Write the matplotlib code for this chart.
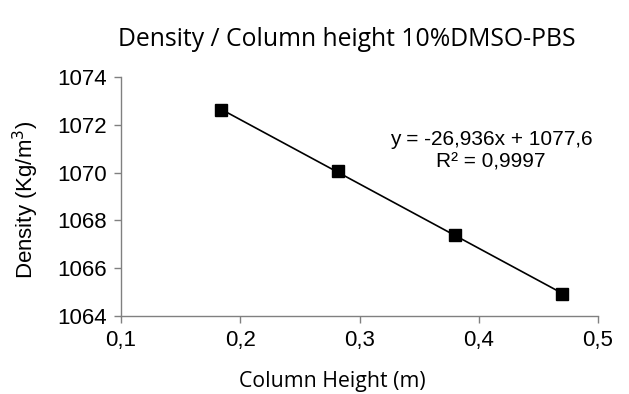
import matplotlib
matplotlib.use("Agg")
import matplotlib.pyplot as plt
import numpy as np

column_height = [0.184, 0.282, 0.380, 0.470]
density = [1072.6, 1070.08, 1067.38, 1064.92]
x_ticks = [0.1, 0.2, 0.3, 0.4, 0.5]
x_tick_labels = ["0,1", "0,2", "0,3", "0,4", "0,5"]
y_ticks = [1064, 1066, 1068, 1070, 1072, 1074]
title = "Density / Column height 10%DMSO-PBS"
equation = "y = -26,936x + 1077,6\nR² = 0,9997"

W, H = 629, 394
fig = plt.figure(figsize=(W / 100, H / 100), dpi=100)
ax = fig.add_axes([121 / W, 1 - 316 / H, (598 - 121) / W, (316 - 77) / H])

# trendline
slope, intercept = np.polyfit(column_height, density, 1)
xs = np.array([min(column_height), max(column_height)])
ax.plot(xs, slope * xs + intercept, color="black", lw=1.2, zorder=2)
ax.plot(column_height, density, ls="none", marker="s", ms=9, color="black", zorder=3)

ax.set_xlim(0.1, 0.5)
ax.set_ylim(1064, 1074)
ax.set_xticks(x_ticks)
ax.set_xticklabels(x_tick_labels)
ax.set_yticks(y_ticks)
ax.set_yticklabels([str(v) for v in y_ticks])
for s in ["top", "right"]:
    ax.spines[s].set_visible(False)
for s in ["left", "bottom"]:
    ax.spines[s].set_color("#808080")
    ax.spines[s].set_linewidth(1.0)
ax.tick_params(axis="both", direction="out", length=5, color="#808080", width=1.0,
               labelsize=16, pad=5)
for lab in ax.get_xticklabels() + ax.get_yticklabels():
    lab.set_fontfamily("Liberation Sans")

fig.text(347 / W, 1 - 40 / H, title, ha="center", va="center", fontsize=17.8, family="Open Sans")
fig.text(332 / W, 1 - 382 / H, "Column Height (m)", ha="center", va="center", fontsize=15.3,
         family="Open Sans")
fig.text(26 / W, 1 - 200 / H, "Density (Kg/m$^3$)", ha="center", va="center", rotation=90,
         fontsize=16, family="Liberation Sans")
fig.text(491 / W, 1 - 151 / H, equation, ha="center", va="center", multialignment="center",
         fontsize=15, family="Liberation Sans", linespacing=1.25)

fig.savefig("out.png", dpi=100)
